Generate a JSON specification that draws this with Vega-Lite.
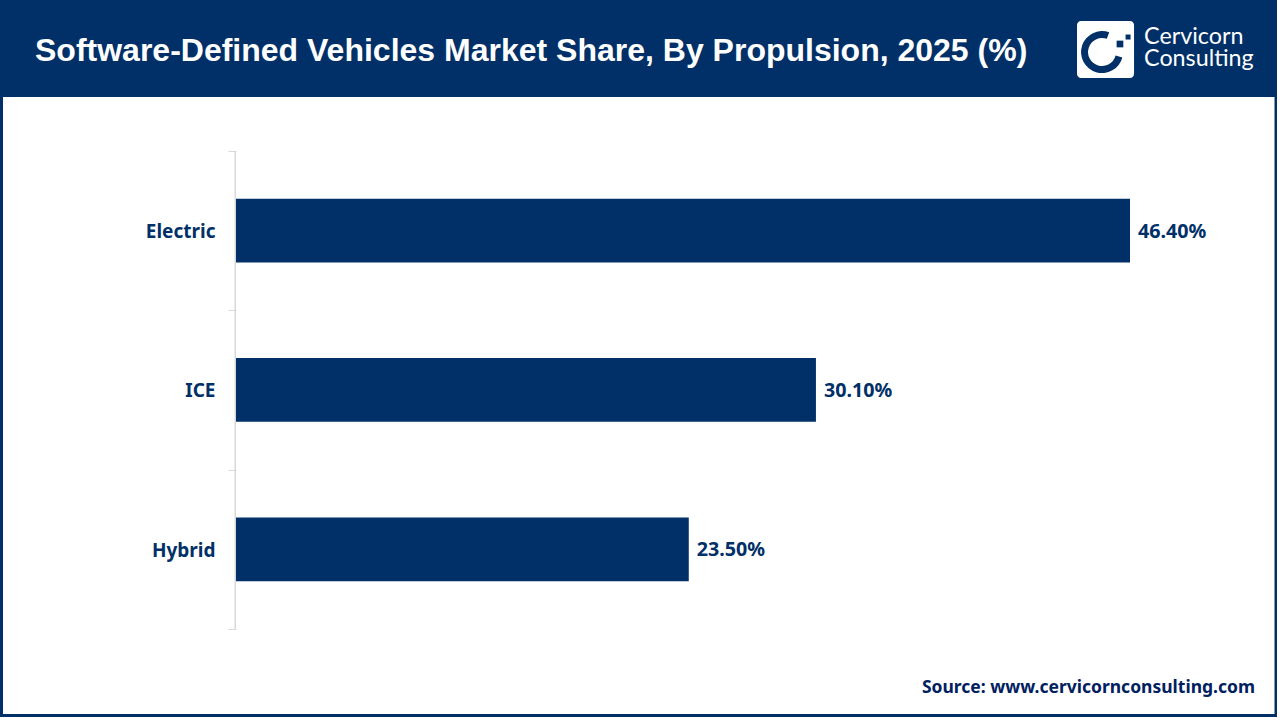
{
  "$schema": "https://vega.github.io/schema/vega-lite/v6.json",
  "autosize": "none",
  "padding": {"left": 3, "top": 97, "right": 2.5, "bottom": 2.5},
  "width": 1271.5,
  "height": 617,
  "background": "#003067",
  "view": {"fill": "#ffffff", "stroke": null},
  "title": {
    "text": "Software-Defined Vehicles Market Share, By Propulsion, 2025 (%)",
    "anchor": "start",
    "frame": "group",
    "dx": 32,
    "offset": -47,
    "font": "Liberation Sans",
    "fontSize": 32,
    "fontWeight": "bold",
    "color": "#ffffff"
  },
  "data": {
    "values": [
      {"propulsion": "Electric", "share": 46.4, "label": "46.40%"},
      {"propulsion": "ICE", "share": 30.1, "label": "30.10%"},
      {"propulsion": "Hybrid", "share": 23.5, "label": "23.50%"}
    ]
  },
  "resolve": {"scale": {"y": "independent"}, "axis": {"y": "independent"}},
  "layer": [
    {
      "encoding": {
        "y": {
          "field": "propulsion",
          "type": "nominal",
          "sort": null,
          "scale": {"paddingInner": 0, "paddingOuter": 0.436, "align": 0.388},
          "axis": {
            "title": null,
            "offset": -233,
            "domain": false,
            "grid": false,
            "tickBand": "extent",
            "tickColor": "#d9d9d9",
            "tickSize": 8,
            "tickWidth": 1,
            "labelPadding": 13,
            "labelOffset": 1,
            "labelFont": "Noto Sans",
            "labelFontSize": 19,
            "labelFontWeight": "bold",
            "labelColor": "#003067",
            "encoding": {"labels": {"update": {"dx": {"signal": "datum.label == 'ICE' ? -5 : 0"}}}}
          }
        },
        "x": {
          "field": "share",
          "type": "quantitative",
          "scale": {"domain": [-12.093, 53.9], "nice": false, "zero": false},
          "axis": null
        }
      },
      "layer": [
        {"mark": {"type": "bar", "color": "#003067", "height": {"band": 0.4}}},
        {
          "mark": {
            "type": "text",
            "align": "left",
            "dx": 8,
            "dy": 1,
            "font": "Noto Sans",
            "fontSize": 19.7,
            "fontWeight": "bold",
            "color": "#003067"
          },
          "encoding": {"text": {"field": "label"}}
        }
      ]
    },
    {
      "data": {"values": [{}]},
      "encoding": {
        "y": {"datum": 112.32, "type": "quantitative", "scale": {"domain": [0, 100], "nice": false, "zero": false}, "axis": null}
      },
      "layer": [
        {
          "mark": {"type": "rule", "color": "#d9d9d9", "strokeWidth": 1.5},
          "encoding": {"x": {"datum": -0.04}, "y": {"datum": 91.25}, "y2": {"datum": 13.78}}
        },
        {
          "mark": {"type": "rect", "color": "#ffffff", "cornerRadius": 4, "clip": false},
          "encoding": {"x": {"datum": 43.65}, "x2": {"datum": 46.61}, "y2": {"datum": 103.08}}
        },
        {
          "mark": {"type": "arc", "color": "#003067", "radius": 21, "radius2": 14, "theta": 1.83, "theta2": 6.63, "clip": false},
          "encoding": {"x": {"datum": 44.95}, "y": {"datum": 107.29}}
        },
        {
          "mark": {"type": "point", "shape": "square", "filled": true, "opacity": 1, "color": "#003067", "size": 45, "clip": false},
          "encoding": {"x": {"datum": 45.88}, "y": {"datum": 108.59}}
        },
        {
          "mark": {"type": "point", "shape": "square", "filled": true, "opacity": 1, "color": "#003067", "size": 25, "clip": false},
          "encoding": {"x": {"datum": 46.3}, "y": {"datum": 109.72}}
        },
        {
          "mark": {"type": "text", "text": "Cervicorn", "align": "left", "baseline": "alphabetic", "font": "Lato", "fontSize": 23.3, "color": "#ffffff", "clip": false},
          "encoding": {"x": {"datum": 47.13}, "y": {"datum": 108.59}}
        },
        {
          "mark": {"type": "text", "text": "Consulting", "align": "left", "baseline": "alphabetic", "font": "Lato", "fontSize": 23.3, "color": "#ffffff", "clip": false},
          "encoding": {"x": {"datum": 47.13}, "y": {"datum": 105.02}}
        },
        {
          "mark": {"type": "text", "text": "Source: www.cervicornconsulting.com", "align": "right", "baseline": "alphabetic", "font": "Noto Sans", "fontSize": 17.5, "fontWeight": "bold", "color": "#002060"},
          "encoding": {"x": {"datum": 52.89}, "y": {"datum": 3.45}}
        }
      ]
    }
  ]
}
